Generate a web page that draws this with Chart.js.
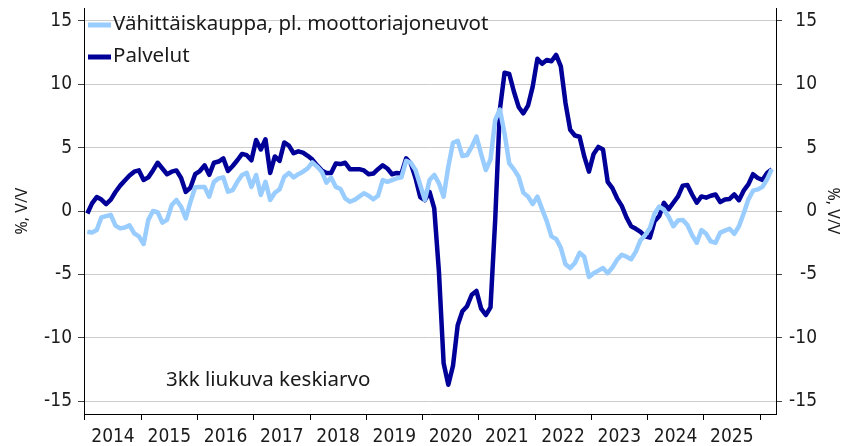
<!DOCTYPE html>
<html>
<head>
<meta charset="utf-8">
<script src="https://cdn.jsdelivr.net/npm/chart.js@4.4.1/dist/chart.umd.min.js"></script>
<style>
  html, body { margin: 0; padding: 0; background: #fff; }
  #wrap { width: 845px; height: 446px; }
</style>
</head>
<body>
<div id="wrap"><canvas id="chart" width="845" height="446"></canvas></div>
<script>
// monthly series, Jan 2014 - Mar 2026 (3kk liukuva keskiarvo)
const years = ['2014','2015','2016','2017','2018','2019','2020','2021','2022','2023','2024','2025'];
const seriesNames = ['Vähittäiskauppa, pl. moottoriajoneuvot', 'Palvelut'];
const seriesColors = ['#99ccff', '#000099'];
const yTicks = [-15, -10, -5, 0, 5, 10, 15];
const axisTitle = '%, V/V';
const note = '3kk liukuva keskiarvo';

const retail = [
  -1.63, -1.7, -1.5, -0.5, -0.4, -0.3, -1.15, -1.37, -1.3, -1.13,
  -1.76, -2.0, -2.6, -0.7, 0.0, -0.1, -0.92, -0.7, 0.47, 0.87,
  0.34, -0.58, 0.73, 1.87, 1.9, 1.9, 1.13, 2.3, 2.57, 2.65,
  1.52, 1.65, 2.3, 2.84, 3.0, 1.9, 2.84, 1.26, 2.3, 0.87,
  1.44, 1.7, 2.7, 3.0, 2.65, 2.9, 3.1, 3.36, 3.83, 3.5,
  3.1, 2.23, 2.65, 1.9, 1.73, 1.0, 0.73, 0.87, 1.13, 1.4,
  1.2, 0.92, 1.2, 2.44, 2.3, 2.44, 2.57, 2.65, 3.96, 3.8,
  3.23, 2.05, 0.87, 2.44, 2.84, 2.18, 1.13, 3.5, 5.38, 5.54,
  4.33, 4.41, 5.07, 5.86, 4.49, 3.23, 4.07, 7.17, 8.0, 6.1,
  3.76, 3.28, 2.7, 1.45, 1.13, 0.55, 1.13, 0.15, -0.8, -2.0,
  -2.2, -2.9, -4.2, -4.5, -4.1, -3.3, -3.6, -5.2, -4.9, -4.7,
  -4.5, -4.9, -4.45, -3.85, -3.45, -3.6, -3.8, -3.2, -2.3, -1.9,
  -1.35, -0.2, 0.35, 0.1, -0.45, -1.2, -0.75, -0.7, -1.1, -1.9,
  -2.5, -1.5, -1.8, -2.4, -2.5, -1.7, -1.55, -1.4, -1.8, -1.2,
  -0.2, 0.9, 1.6, 1.7, 1.9, 2.5, 3.3
];

const services = [
  -0.2, 0.6, 1.1, 0.9, 0.55, 0.9, 1.5, 2.0, 2.4, 2.8,
  3.1, 3.2, 2.45, 2.65, 3.2, 3.8, 3.35, 2.9, 3.1, 3.2,
  2.6, 1.5, 1.85, 2.9, 3.15, 3.6, 2.85, 3.8, 3.9, 4.15,
  3.15, 3.55, 4.0, 4.5, 4.4, 4.0, 5.6, 4.85, 5.65, 3.0,
  4.3, 3.95, 5.4, 5.15, 4.55, 4.7, 4.6, 4.35, 4.05, 3.6,
  3.2, 3.0, 3.0, 3.75, 3.7, 3.8, 3.3, 3.3, 3.3, 3.2,
  2.9, 2.95, 3.3, 3.6, 3.35, 2.9, 3.0, 2.95, 4.15, 3.75,
  2.6, 1.1, 0.85, 1.5, 0.2, -4.8, -12.0, -13.7, -12.2, -9.0,
  -7.9, -7.5, -6.6, -6.3, -7.7, -8.2, -7.6, -0.7, 8.0, 10.9,
  10.8, 9.4, 8.2, 7.7, 8.3, 9.8, 12.0, 11.6, 11.9, 11.8,
  12.3, 11.4, 8.5, 6.4, 5.95, 5.85, 4.3, 3.1, 4.5, 5.05,
  4.85, 2.3, 1.8, 1.0, 0.4, -0.5, -1.2, -1.4, -1.65, -2.0,
  -2.1, -0.8, -0.4, 0.65, 0.15, 0.65, 1.15, 2.0, 2.05, 1.3,
  0.65, 1.15, 1.05, 1.2, 1.3, 0.7, 0.9, 0.95, 1.3, 0.85,
  1.6, 2.1, 2.9, 2.6, 2.45, 3.0, 3.3
];

// x = months since Jan 2014; year boundaries sit half a month before each January
const months = retail.map((v, i) => i);
const yearBounds = years.concat(['2026']).map((y, i) => i * 12 - 0.5);

const tickFont = { family: '"DejaVu Sans Condensed", "Liberation Sans Narrow", "Noto Sans", sans-serif', size: 19 };
const textFont = '"Noto Sans", sans-serif';

const overlay = {
  id: 'overlay',
  afterDraw(chart) {
    const ctx = chart.ctx;
    const area = chart.chartArea;
    ctx.save();
    ctx.fillStyle = '#1a1a1a';
    ctx.textBaseline = 'middle';
    ctx.font = '20.5px ' + textFont;
    seriesNames.forEach((name, k) => {
      const y = area.top + 17 + k * 32;
      ctx.strokeStyle = seriesColors[k];
      ctx.lineWidth = 5;
      ctx.beginPath();
      ctx.moveTo(area.left + 4, y);
      ctx.lineTo(area.left + 27, y);
      ctx.stroke();
      ctx.fillText(name, area.left + 29, y - 1);
    });
    ctx.fillText(note, area.left + 82, area.bottom - 34);

    ctx.font = '16px ' + textFont;
    ctx.textAlign = 'center';
    const midY = (area.top + area.bottom) / 2;
    ctx.save();
    ctx.translate(22, midY);
    ctx.rotate(-Math.PI / 2);
    ctx.fillText(axisTitle, 0, 0);
    ctx.restore();
    ctx.save();
    ctx.translate(chart.width - 12, midY);
    ctx.rotate(Math.PI / 2);
    ctx.fillText(axisTitle, 0, 0);
    ctx.restore();
    ctx.restore();
  }
};

const yScale = (side) => ({
  position: side,
  min: -16,
  max: 16,
  afterBuildTicks: s => { s.ticks = yTicks.map(v => ({ value: v })); },
  afterFit: s => { s.width = side === 'left' ? 84 : 41; s.paddingTop = 0; s.paddingBottom = 0; },
  ticks: {
    padding: side === 'left' ? 6 : 4,
    crossAlign: side === 'left' ? 'near' : 'far',
    color: '#1a1a1a',
    font: tickFont
  },
  grid: {
    display: true,
    drawOnChartArea: side === 'left',
    color: '#cccccc',
    lineWidth: 1,
    tickLength: 6,
    tickColor: '#444'
  },
  border: { display: true, color: '#000', width: 1 }
});

new Chart(document.getElementById('chart'), {
  type: 'line',
  data: {
    labels: months,
    datasets: [
      { label: seriesNames[0], data: retail, borderColor: seriesColors[0], backgroundColor: seriesColors[0] },
      { label: seriesNames[1], data: services, borderColor: seriesColors[1], backgroundColor: seriesColors[1] }
    ]
  },
  options: {
    responsive: false,
    animation: false,
    layout: { padding: { top: 8, right: 28, left: 0, bottom: 0 } },
    elements: {
      line: { borderWidth: 4.5, tension: 0, borderJoinStyle: 'round', borderCapStyle: 'butt' },
      point: { radius: 0, hoverRadius: 0 }
    },
    plugins: {
      legend: { display: false },
      tooltip: { enabled: false }
    },
    scales: {
      x: {
        type: 'linear',
        min: -0.713,
        max: 146.9,
        afterBuildTicks: s => { s.ticks = yearBounds.map(v => ({ value: v })); },
        afterFit: s => { s.height = 32; s.paddingLeft = 0; s.paddingRight = 0; },
        ticks: {
          autoSkip: false,
          maxRotation: 0,
          minRotation: 0,
          labelOffset: 28,
          padding: 6,
          color: '#1a1a1a',
          font: tickFont,
          callback: (v, i) => years[i] || ''
        },
        grid: { drawOnChartArea: false, tickLength: 6, tickColor: '#000' },
        border: { display: true, color: '#000', width: 1 }
      },
      y: yScale('left'),
      y2: yScale('right')
    }
  },
  plugins: [overlay]
});
</script>
</body>
</html>
